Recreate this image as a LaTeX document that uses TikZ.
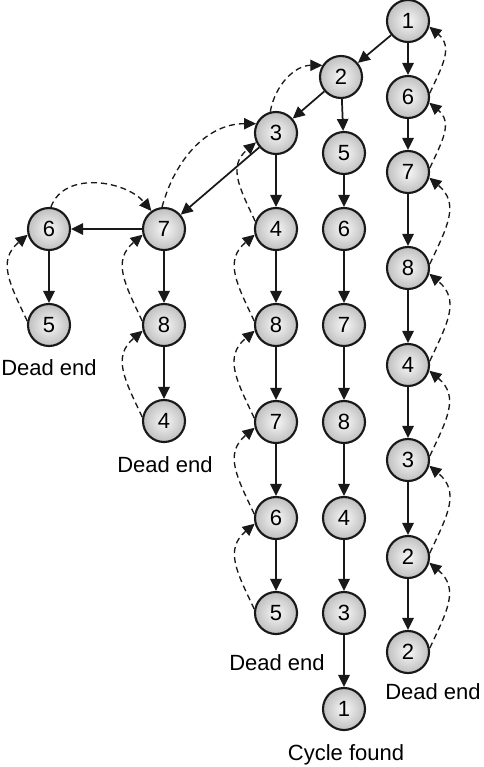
\documentclass[tikz,border=0pt]{standalone}
\usepackage{fontspec}
\setmainfont{Liberation Sans}
\usetikzlibrary{arrows.meta}

\begin{document}
\begin{tikzpicture}[x=0.75pt,y=0.75pt,yscale=-1,
    vtx/.style={circle, draw=black!90, line width=1.6pt, minimum size=31.5pt, inner sep=0pt,
        inner color=black!3, outer color=black!25, font=\fontsize{16.5}{18}\selectfont},
    fwd/.style={draw=black!90, line width=1.3pt, -{Triangle[length=9pt,width=8.5pt]}},
    back/.style={draw=black!90, line width=1pt, dash pattern=on 4.5pt off 3pt,
        -{Triangle[length=9pt,width=8.5pt]}, looseness=1.2},
    lbl/.style={font=\fontsize{16.5}{20}\selectfont, inner sep=0pt}]
        \useasboundingbox (0,0) rectangle (483,767);

        %Nodes: right column
        \node[vtx] (a1) at (408,21) {1};
        \node[vtx] (a6) at (408,97) {6};
        \node[vtx] (a7) at (408,172) {7};
        \node[vtx] (a8) at (408,268) {8};
        \node[vtx] (a4) at (408,365) {4};
        \node[vtx] (a3) at (408,460) {3};
        \node[vtx] (a2) at (408,557) {2};
        \node[vtx] (a2b) at (408,652) {2};
        %Nodes: cycle column
        \node[vtx] (b2) at (341,77) {2};
        \node[vtx] (b5) at (344,153) {5};
        \node[vtx] (b6) at (344,229) {6};
        \node[vtx] (b7) at (344,325) {7};
        \node[vtx] (b8) at (344,422) {8};
        \node[vtx] (b4) at (344,518) {4};
        \node[vtx] (b3) at (344,613) {3};
        \node[vtx] (b1) at (344,709) {1};
        %Nodes: middle column
        \node[vtx] (c3) at (276,133) {3};
        \node[vtx] (c4) at (276,229) {4};
        \node[vtx] (c8) at (276,325) {8};
        \node[vtx] (c7) at (276,422) {7};
        \node[vtx] (c6) at (276,518) {6};
        \node[vtx] (c5) at (276,613) {5};
        %Nodes: left columns
        \node[vtx] (d7) at (164,229) {7};
        \node[vtx] (d8) at (164,325) {8};
        \node[vtx] (d4) at (164,421) {4};
        \node[vtx] (e6) at (49,229) {6};
        \node[vtx] (e5) at (49,325) {5};

        %Straight Lines: search steps
        \draw[fwd] (a1) -- (b2);
        \draw[fwd] (a1) -- (a6);
        \draw[fwd] (a6) -- (a7);
        \draw[fwd] (a7) -- (a8);
        \draw[fwd] (a8) -- (a4);
        \draw[fwd] (a4) -- (a3);
        \draw[fwd] (a3) -- (a2);
        \draw[fwd] (a2) -- (a2b);
        \draw[fwd] (b2) -- (c3);
        \draw[fwd] (b2) -- (b5);
        \draw[fwd] (b5) -- (b6);
        \draw[fwd] (b6) -- (b7);
        \draw[fwd] (b7) -- (b8);
        \draw[fwd] (b8) -- (b4);
        \draw[fwd] (b4) -- (b3);
        \draw[fwd] (b3) -- (b1);
        \draw[fwd] (c3) -- (d7);
        \draw[fwd] (c3) -- (c4);
        \draw[fwd] (c4) -- (c8);
        \draw[fwd] (c8) -- (c7);
        \draw[fwd] (c7) -- (c6);
        \draw[fwd] (c6) -- (c5);
        \draw[fwd] (d7) -- (e6);
        \draw[fwd] (d7) -- (d8);
        \draw[fwd] (d8) -- (d4);
        \draw[fwd] (e6) -- (e5);

        %Curve Lines: backtracking, right side (angles flipped by yscale=-1)
        \draw[back] (a6.10) to[out=-65,in=40] (a1.-15);
        \draw[back] (a7.10) to[out=-65,in=40] (a6.-15);
        \draw[back] (a8.10) to[out=-65,in=40] (a7.-15);
        \draw[back] (a4.10) to[out=-65,in=40] (a8.-15);
        \draw[back] (a3.10) to[out=-65,in=40] (a4.-15);
        \draw[back] (a2.10) to[out=-65,in=40] (a3.-15);
        \draw[back] (a2b.10) to[out=-65,in=40] (a2.-15);
        %Curve Lines: backtracking, left side
        \draw[back] (c5.170) to[out=-115,in=140] (c6.195);
        \draw[back] (c6.170) to[out=-115,in=140] (c7.195);
        \draw[back] (c7.170) to[out=-115,in=140] (c8.195);
        \draw[back] (c8.170) to[out=-115,in=140] (c4.195);
        \draw[back] (c4.160) to[out=-115,in=140] (c3.205);
        \draw[back] (d4.170) to[out=-115,in=140] (d8.195);
        \draw[back] (d8.170) to[out=-115,in=140] (d7.195);
        \draw[back] (e5.170) to[out=-115,in=140] (e6.195);
        %Curve Lines: backtracking, over the top
        \draw[back, looseness=1] (e6.85) to[out=-70,in=-130] (d7.125);
        \draw[back, looseness=1] (d7.95) to[out=-75,in=180] (c3.155);
        \draw[back, looseness=1] (c3.105) to[out=-80,in=180] (b2.148);

        % Text Node
        \node[lbl] (dead1) at (49,368) {Dead end};
        % Text Node
        \node[lbl] (dead2) at (165,465) {Dead end};
        % Text Node
        \node[lbl] (dead3) at (277,663) {Dead end};
        % Text Node
        \node[lbl] (dead4) at (433,692) {Dead end};
        % Text Node
        \node[lbl] (found) at (346,755) {Cycle found};

\end{tikzpicture}
\end{document}
